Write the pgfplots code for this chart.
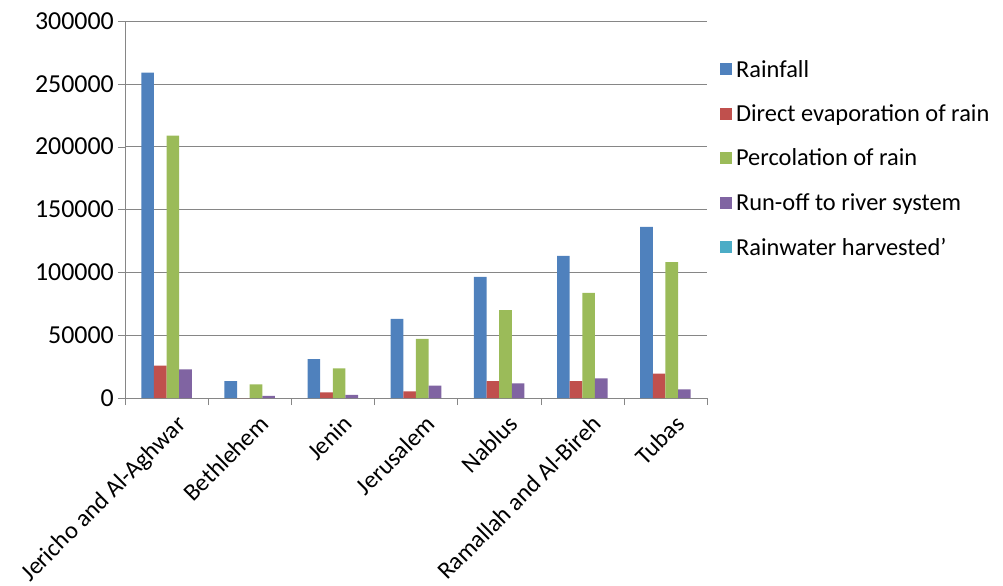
\documentclass[border=0pt]{standalone}
\usepackage{fontspec}
\setmainfont{Carlito}
\usepackage{pgfplots}
\pgfplotsset{compat=1.18}
\definecolor{c1}{HTML}{4F81BD}
\definecolor{c2}{HTML}{C0504D}
\definecolor{c3}{HTML}{9BBB59}
\definecolor{c4}{HTML}{8064A2}
\definecolor{c5}{HTML}{4BACC6}
\definecolor{axgray}{HTML}{868686}
\pgfplotsset{sq legend/.style={legend image code/.code={\fill[##1] (0bp,-6bp) rectangle (12bp,6bp);}}}
\begin{document}
\begin{tikzpicture}
\path[use as bounding box] (-125bp,-188bp) rectangle (878bp,398bp);
\begin{axis}[
  at={(0,0)}, anchor=south west,
  scale only axis, width=582bp, height=377bp,
  xmin=-0.5, xmax=6.5, ymin=0, ymax=300000,
  ybar, bar width=0.152,
  xtick={0,...,6},
  xticklabels={Jericho and Al-Aghwar,Bethlehem,Jenin,Jerusalem,Nablus,Ramallah and Al-Bireh,Tubas},
  minor xtick={-0.5,0.5,...,6.5},
  major x tick style={draw=none},
  ytick={0,50000,100000,150000,200000,250000,300000},
  yticklabels={0,50000,100000,150000,200000,250000,300000},
  scaled y ticks=false,
  tick align=outside, major tick length=7bp, minor tick length=7bp,
  axis x line*=bottom, axis y line*=left,
  axis line style={axgray}, tick style={axgray},
  ymajorgrids, grid style={axgray},
  tick label style={text=black},
  yticklabel style={font=\fontsize{26}{30}\selectfont, inner xsep=4bp},
  xticklabel style={font=\fontsize{24.5}{29}\selectfont, rotate=45, anchor=north east, inner sep=2bp, xshift=2bp, yshift=-10bp},
  legend style={at={(1.017,0.907)}, anchor=north west, draw=none, fill=none,
    font=\fontsize{24.5}{29}\selectfont, row sep=22bp, nodes={inner xsep=4bp}},
  legend cell align=left,
]
\addplot[sq legend, fill=c1, draw=none, bar shift=-0.228] coordinates {(0,259000) (1,13500) (2,31000) (3,62900) (4,96300) (5,113000) (6,136100)};
\addlegendentry{Rainfall}
\addplot[sq legend, fill=c2, draw=none, bar shift=-0.076] coordinates {(0,25700) (1,0) (2,4500) (3,5300) (4,13500) (5,13500) (6,19300)};
\addlegendentry{Direct evaporation of rain}
\addplot[sq legend, fill=c3, draw=none, bar shift=0.076] coordinates {(0,208700) (1,10900) (2,23600) (3,47000) (4,70000) (5,83600) (6,108200)};
\addlegendentry{Percolation of rain}
\addplot[sq legend, fill=c4, draw=none, bar shift=0.228] coordinates {(0,22800) (1,1600) (2,2400) (3,9800) (4,11700) (5,15700) (6,6900)};
\addlegendentry{Run-off to river system}
\addlegendimage{sq legend, fill=c5, draw=none}
\addlegendentry{Rainwater harvested'}
\end{axis}
\end{tikzpicture}
\end{document}
